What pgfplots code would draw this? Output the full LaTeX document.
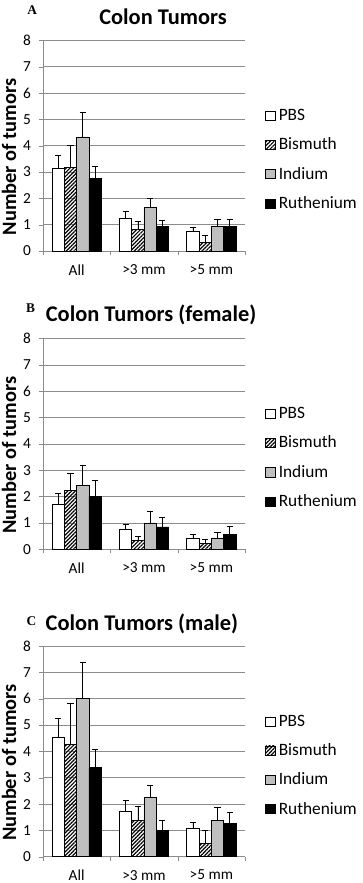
\documentclass[border=0pt]{standalone}
\usepackage{fontspec}
\setmainfont{Carlito}
\newfontfamily\letterfont{Liberation Serif}
\usepackage{pgfplots}
\pgfplotsset{compat=1.18}
\usetikzlibrary{patterns.meta}

\definecolor{indium}{RGB}{191,191,191}
\definecolor{gridgray}{RGB}{140,140,140}

\newcommand{\tickfont}{\fontsize{11.5}{13.5}\selectfont}
\newcommand{\legfont}{\fontsize{13}{15}\selectfont}

\tikzset{
  panel letter/.style={font=\letterfont\bfseries\fontsize{10}{12}\selectfont, anchor=base, inner sep=0pt},
  panel title/.style={font=\bfseries\fontsize{16.8}{20}\selectfont, anchor=base, inner sep=0pt},
}

\pgfplotsset{
  colon/.style={
    scale only axis, clip=false,
    width=151.5pt, height=158pt,
    ybar=0pt, bar width=9.2pt,
    xmin=-0.5, xmax=2.5, ymin=0, ymax=8,
    axis lines*=left,
    axis line style={gridgray},
    ymajorgrids, major grid style={gridgray, line width=0.6pt},
    ytick={0,...,8},
    xtick={-0.5,0.5,1.5,2.5},
    xticklabels={All,>3 mm,>5 mm},
    x tick label as interval,
    tick align=outside, major tick length=3pt,
    tick style={gridgray},
    xtick pos=bottom, ytick pos=left,
    /pgf/number format/assume math mode=true,
    ticklabel style={font=\tickfont},
    xticklabel style={yshift=-3.5pt},
    yticklabel style={xshift=-2.5pt},
    ylabel={Number of tumors},
    ylabel style={font=\bfseries\fontsize{15.3}{18}\selectfont,
      at={(axis description cs:-0.168,0.447)}, anchor=center},
    legend style={at={(1.08,0.433)}, anchor=west, draw=none, fill=none,
      font=\legfont, row sep=7.5pt},
    legend cell align=left,
    legend image code/.code={\draw[#1] (0pt,-3.4pt) rectangle (7.5pt,3.4pt);},
    error bars/y dir=plus, error bars/y explicit,
    error bars/error mark=-,
    error bars/error bar style={black, line width=0.5pt},
    error bars/error mark options={rotate=90, black, mark size=2.3pt, line width=0.5pt},
  },
  pbs/.style={draw=black, fill=white, line width=0.5pt},
  bism/.style={draw=black, line width=0.5pt,
    pattern={Lines[angle=45,distance=2pt,line width=0.9pt]}, pattern color=black},
  indi/.style={draw=black, fill=indium, line width=0.5pt},
  ruth/.style={draw=black, fill=black, line width=0.5pt},
}

\begin{document}
\begin{tikzpicture}
\path[use as bounding box] (0,0) rectangle (271.5pt,662.25pt);

% panel A
\begin{axis}[colon, at={(32.25pt,474pt)}, anchor=south west]
\addplot[pbs] table[y error index=2] {
0 3.15 0.50
1 1.25 0.26
2 0.75 0.15
};
\addplot[bism] table[y error index=2] {
0 3.18 0.82
1 0.83 0.28
2 0.33 0.27
};
\addplot[indi] table[y error index=2] {
0 4.33 0.92
1 1.67 0.34
2 0.92 0.30
};
\addplot[ruth] table[y error index=2] {
0 2.75 0.47
1 0.92 0.26
2 0.92 0.28
};
\legend{PBS,Bismuth,Indium,Ruthenium}
\node[panel letter] at (axis description cs:-0.054,1.122) {A};
\node[panel title] at (axis description cs:0.594,1.075) {Colon Tumors};
\end{axis}

% panel B
\begin{axis}[colon, at={(32.25pt,250.3pt)}, anchor=south west]
\addplot[pbs] table[y error index=2] {
0 1.70 0.42
1 0.75 0.20
2 0.43 0.14
};
\addplot[bism] table[y error index=2] {
0 2.22 0.65
1 0.33 0.17
2 0.22 0.16
};
\addplot[indi] table[y error index=2] {
0 2.43 0.75
1 1.00 0.45
2 0.43 0.20
};
\addplot[ruth] table[y error index=2] {
0 2.00 0.62
1 0.85 0.35
2 0.57 0.31
};
\legend{PBS,Bismuth,Indium,Ruthenium}
\node[panel letter] at (axis description cs:-0.062,1.125) {B};
\node[panel title] at (axis description cs:0.535,1.082) {Colon Tumors (female)};
\end{axis}

% panel C
\begin{axis}[colon, at={(32.25pt,19.7pt)}, anchor=south west]
\addplot[pbs] table[y error index=2] {
0 4.53 0.72
1 1.71 0.44
2 1.06 0.24
};
\addplot[bism] table[y error index=2] {
0 4.27 1.57
1 1.38 0.53
2 0.51 0.48
};
\addplot[indi] table[y error index=2] {
0 6.00 1.38
1 2.25 0.45
2 1.38 0.49
};
\addplot[ruth] table[y error index=2] {
0 3.39 0.69
1 0.99 0.39
2 1.25 0.42
};
\legend{PBS,Bismuth,Indium,Ruthenium}
\node[panel letter] at (axis description cs:-0.057,1.10) {C};
\node[panel title] at (axis description cs:0.490,1.076) {Colon Tumors (male)};
\end{axis}
\end{tikzpicture}
\end{document}
